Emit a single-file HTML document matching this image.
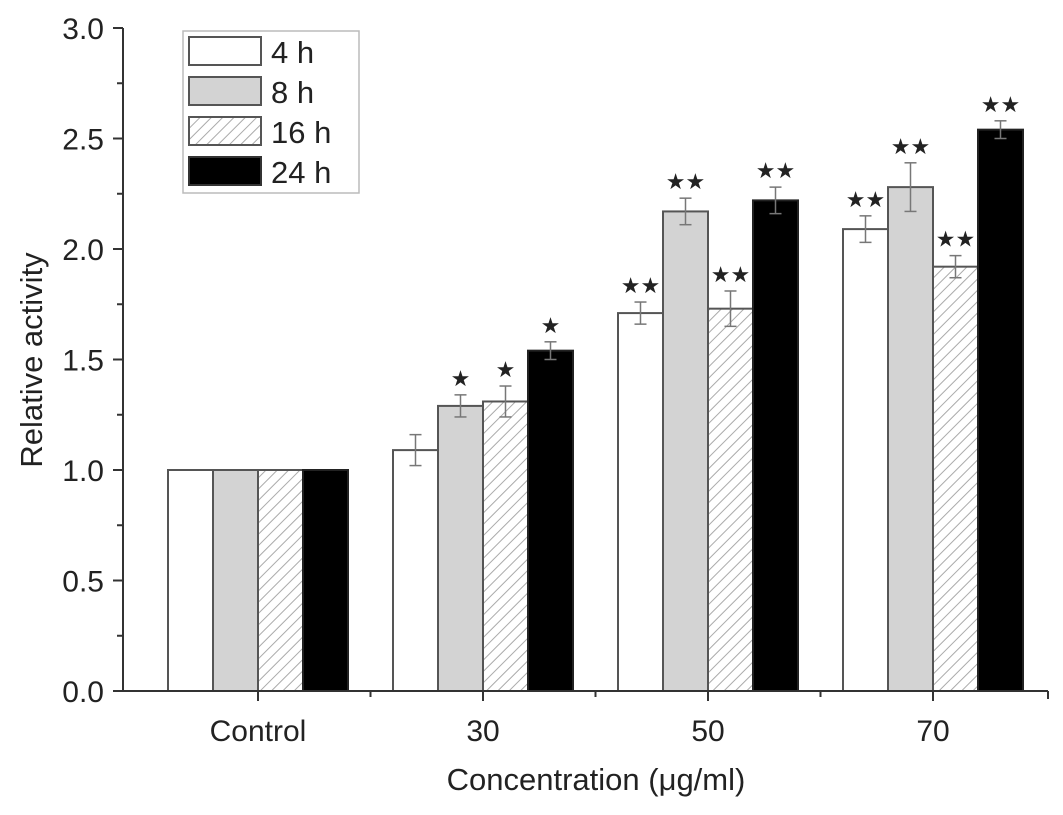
<!DOCTYPE html>
<html><head><meta charset="utf-8"><style>
body{margin:0;background:#fff}
svg text{font-family:"Liberation Sans",sans-serif;fill:#222}
</style></head><body>
<svg id="chart" width="1063" height="810" viewBox="0 0 1063 810" xmlns="http://www.w3.org/2000/svg">
<defs>
<pattern id="hatch" patternUnits="userSpaceOnUse" width="8" height="8" patternTransform="rotate(45)">
<rect width="8" height="8" fill="#fff"/><line x1="0" y1="0" x2="0" y2="8" stroke="#aaa" stroke-width="2"/>
</pattern>
</defs>
<g id="marks"></g>
<g id="axes"></g>
<text x="0" y="0" font-size="31" text-anchor="middle" transform="translate(42,360) rotate(-90)">Relative activity</text>
<text x="596" y="790" font-size="31" text-anchor="middle">Concentration (μg/ml)</text>
<g>
<rect x="183" y="31" width="176" height="162" fill="#fff" stroke="#bbb" stroke-width="1.5"/>
<rect x="189" y="37" width="72" height="28" fill="#fff" stroke="#555" stroke-width="2"/>
<text x="271" y="63" font-size="31">4 h</text>
<rect x="189" y="77" width="72" height="28" fill="#d3d3d3" stroke="#555" stroke-width="2"/>
<text x="271" y="103" font-size="31">8 h</text>
<rect x="189" y="117" width="72" height="28" fill="url(#hatch)" stroke="#555" stroke-width="2"/>
<text x="271" y="143" font-size="31">16 h</text>
<rect x="189" y="157" width="72" height="28" fill="#000" stroke="#333" stroke-width="2"/>
<text x="271" y="183" font-size="31">24 h</text>
</g>
</svg>
<script>
const categories = ["Control","30","50","70"];
const seriesNames = ["4 h","8 h","16 h","24 h"];
const v4 = [1.0, 1.09, 1.71, 2.09];
const v8 = [1.0, 1.29, 2.17, 2.28];
const v16 = [1.0, 1.31, 1.73, 1.92];
const v24 = [1.0, 1.54, 2.22, 2.54];
const e4 = [0, 0.07, 0.05, 0.06];
const e8 = [0, 0.05, 0.06, 0.11];
const e16 = [0, 0.07, 0.08, 0.05];
const e24 = [0, 0.04, 0.06, 0.04];
const sig4 = ["", "", "**", "**"];
const sig8 = ["", "*", "**", "**"];
const sig16 = ["", "*", "**", "**"];
const sig24 = ["", "*", "**", "**"];
const yTicks = [0, 0.5, 1.0, 1.5, 2.0, 2.5, 3.0];
const yTickLabels = ["0.0","0.5","1.0","1.5","2.0","2.5","3.0"];

const NS = "http://www.w3.org/2000/svg";
const y0 = 691, yPer = 221;
const yScale = v => y0 - v * yPer;
const groupCenter = i => 258 + i * 225;
const barW = 45;
const fills = ["#fff","#d3d3d3","url(#hatch)","#000"];
const vals = [v4, v8, v16, v24], errs = [e4, e8, e16, e24], sigs = [sig4, sig8, sig16, sig24];
function mk(tag, attrs, parent){const e=document.createElementNS(NS,tag);for(const k in attrs)e.setAttribute(k,attrs[k]);parent.appendChild(e);return e;}
const marks = document.getElementById('marks'), axes = document.getElementById('axes');
categories.forEach((c, i) => {
  vals.forEach((s, j) => {
    const x = groupCenter(i) - 2 * barW + j * barW;
    const v = s[i], top = yScale(v);
    const r = mk('rect', {x: x, y: top, width: barW, height: y0 - top, fill: fills[j], stroke: j === 3 ? '#222' : '#555', 'stroke-width': 2}, marks);
    
    
    const e = errs[j][i];
    if (e > 0) {
      const cx = x + barW / 2, t = yScale(v + e), b = yScale(v - e);
      const g = mk('g', {stroke: '#777', 'stroke-width': 1.5}, marks);
      
      
      mk('line', {x1: cx, x2: cx, y1: t, y2: b}, g);
      mk('line', {x1: cx - 6, x2: cx + 6, y1: t, y2: t}, g);
      mk('line', {x1: cx - 6, x2: cx + 6, y1: b, y2: b}, g);
      const sg = sigs[j][i];
      if (sg) {
        const st = mk('text', {x: cx, y: t - 9, 'font-size': 22, 'text-anchor': 'middle', fill: '#333'}, marks);
        
        
        st.textContent = sg.replace(/\*/g, '★');
      }
    }
  });
});
const ax = mk('g', {stroke: '#333', 'stroke-width': 2, fill: 'none'}, axes);


mk('line', {x1: 123, x2: 123, y1: yScale(3), y2: y0}, ax);
mk('line', {x1: 123, x2: 1048, y1: y0, y2: y0}, ax);
mk('line', {x1: 1048, x2: 1048, y1: y0, y2: y0 + 8}, ax);
yTicks.forEach((t, k) => {
  const y = yScale(t);
  mk('line', {x1: 113, x2: 123, y1: y, y2: y}, ax);
  if (k < yTicks.length - 1) { const m = yScale(t + 0.25); mk('line', {x1: 117, x2: 123, y1: m, y2: m}, ax); }
  const tl = mk('text', {x: 104, y: y + 11, 'font-size': 30, 'text-anchor': 'end'}, axes);
  
  
  tl.textContent = yTickLabels[k];
});
categories.forEach((c, i) => {
  const x = groupCenter(i);
  mk('line', {x1: x, x2: x, y1: y0, y2: y0 + 10}, ax);
  if (i > 0) mk('line', {x1: x - 112.5, x2: x - 112.5, y1: y0, y2: y0 + 6}, ax);
  const tl = mk('text', {x: x, y: 741, 'font-size': 30, 'text-anchor': 'middle'}, axes);
  
  
  tl.textContent = c;
});
</script>
</body></html>
